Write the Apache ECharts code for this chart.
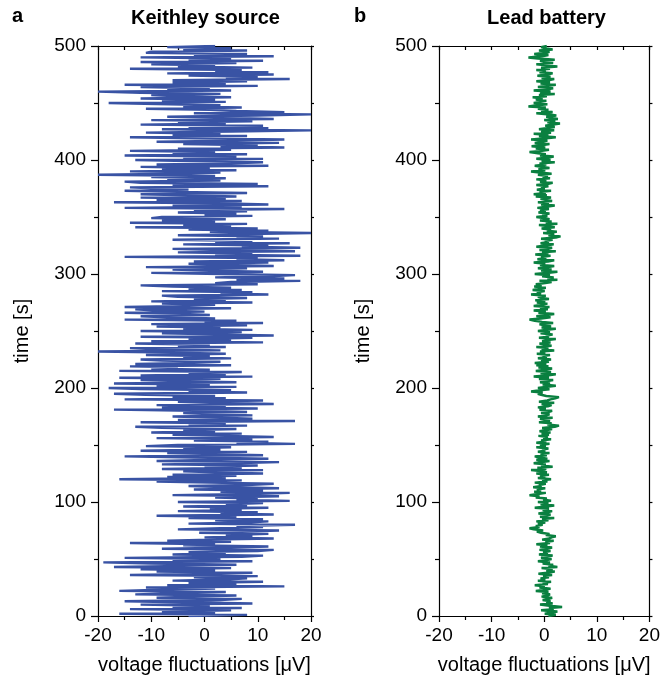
<!DOCTYPE html>
<html>
<head>
<meta charset="utf-8">
<script src="https://cdn.jsdelivr.net/npm/echarts@6/dist/echarts.min.js"></script>
<style>
html,body{margin:0;padding:0;background:#fff;}
#chart{width:663px;height:685px;}
</style>
</head>
<body>
<div id="chart"></div>
<script>
// Panel titles and labels
const panelLetters = ['a', 'b'];
const panelTitles = ['Keithley source', 'Lead battery'];
const xAxisName = 'voltage fluctuations [\u03bcV]';
const yAxisName = 'time [s]';
const xTicks = [-20, -10, 0, 10, 20];
const yTicks = [0, 100, 200, 300, 400, 500];

// Sampling step of each record (s)
const keithleyStep = 1;
const leadStep = 1;

// Keithley source voltage fluctuations (µV), one sample per second from t = 0 s
const keithleyVoltage = [
  -3, 8, -16, 2, -8, 5, -14, 7, -6, 1,
  -12, 9, -4, -15, 3, 7, -9, -2, 6, -13,
  -5, 4, -16, -8, 2, -11, 15, -7, 6, -3,
  11, -6, 4, 8, -2, 10, -14, 3, 9, -9,
  2, -12, 5, -17, -4, 6, -10, -19, 9, -6,
  3, -15, 7, 11, -6, 4, -3, 10, 13, -8,
  5, 12, -4, 2, -14, 5, -7, 1, 13, 0,
  9, 4, 12, -1, 7, 14, -5, 3, 11, 6,
  17, -3, 8, 12, 2, 11, -3, 6, -9, 13,
  3, 10, -5, 7, 1, 12, -4, 8, 4, 11,
  -5, 16, 6, 10, 2, 14, -6, 9, 16, 3,
  11, -2, 14, 5, -3, 9, 13, 1, -9, 7,
  -16, 4, -7, 6, -6, 11, 2, -4, 11, -8,
  7, 0, 10, -8, 5, 14, -9, 3, 12, -2,
  -15, 11, 2, -7, 8, -12, 3, -4, 5, -11,
  -5, 17, 6, 12, -2, 9, -9, 13, 4, -6,
  7, -10, 2, -4, 6, -8, -13, 8, -3, 4,
  -12, 17, -5, 9, 3, -6, 9, 2, -4, 8,
  -2, -17, 10, -8, 4, -9, 13, 1, -5, 11,
  -15, 4, -6, 2, -11, -17, 8, -3, 5, -12,
  -18, 6, -9, 1, -17, 6, -5, -12, 3, -16,
  9, -12, 4, -3, 7, -16, 1, -10, -5, -14,
  5, -13, -2, 3, -8, -12, 5, -4, 1, -11,
  4, -6, -20, 3, -9, -14, 4, -5, 1, -13,
  11, -10, 5, -3, 9, -12, 13, 2, -8, 7,
  -12, 9, -4, 3, -9, 8, -10, 11, 0, 6,
  -15, 2, -7, -12, 1, -4, -15, 0, -9, -13,
  5, -15, -3, 2, -8, 9, -10, 4, -2, 8,
  -5, -8, 12, 3, 9, -8, 7, -3, 5, -6,
  -12, 10, 2, 5, 18, 6, 15, 2, 12, 17,
  3, -10, 11, 1, -6, 8, -11, 13, 4, -3,
  12, -2, 15, 6, 10, -15, 18, 2, 9, -5,
  17, 3, -6, 18, 7, 12, -4, 16, 2, 9,
  -6, 14, 6, 11, -5, 8, 20, 1, 12, -3,
  10, -13, 5, -4, 8, -14, 2, -8, 4, -10,
  -8, 9, 0, 6, -5, 8, -2, 15, -15, 7,
  -6, 12, 2, -17, 7, -9, 4, -12, 6, -3,
  -12, 8, -5, -15, -3, -9, -14, 12, -6, 10,
  -12, -15, 3, -7, 4, -10, 2, -20, -4, 3,
  -14, 6, -8, 1, -12, 12, -9, 5, 11, -3,
  -13, 11, -4, 6, -15, 8, -6, 2, -14, 5,
  -5, 15, 3, 10, -4, 14, -9, 6, 15, -2,
  -14, 8, -6, 3, -11, 5, 20, -8, 12, -3,
  11, -12, 4, -5, 9, -10, 13, 2, -7, 10,
  20, -2, 15, 6, 1, -11, 7, -4, 3, -9,
  -18, 4, -8, 2, -12, 5, -6, -10, 3, -12,
  -20, 5, -7, 1, -12, 10, -15, 4, -6, 8,
  -6, 16, 4, 10, -3, 13, -7, 12, 2, 7,
  -14, 9, -5, 2, -10, 6, -12, 11, -3, 5,
  -12, 13, -2, 8, -11, -10, 8, -4, 5, -7,
  2
];

// Lead battery voltage fluctuations (µV), one sample per second from t = 0 s
const leadVoltage = [
  0.8, 2.2, 0.1, 1.5, 2.5, -0.6, 1.8, 0.9, 3.4, 1.0,
  -0.8, 1.6, 0.4, 1.2, -0.3, 0.9, 1.5, -0.5, 0.6, 1.1,
  -0.4, 0.8, -1.6, 0.3, 1.2, -0.9, 0.1, -1.8, 0.7, -0.3,
  1.3, -1.2, 0.2, -0.7, 0.9, -0.2, 1.5, -1.1, 0.6, 2.0,
  0.4, 1.6, -0.5, 2.5, 0.8, 1.7, -0.3, 1.1, -1.2, 0.5,
  1.4, -0.6, 0.3, 1.6, -1.0, 0.7, -0.2, 1.2, -0.9, 0.4,
  1.5, -0.8, 0.6, -1.5, 1.1, 0.2, 1.8, -0.4, 0.9, 1.4,
  2.2, 0.3, 1.0, -0.6, -1.4, -0.2, -2.0, -2.8, -0.9, -1.6,
  -0.3, -1.2, 0.2, -1.5, 0.8, -0.4, 1.9, -0.8, 0.5, 1.2,
  -1.1, 0.6, 1.5, -0.3, 0.9, -1.8, 0.4, 1.9, -0.7, 0.8,
  -1.2, 1.3, -0.2, 0.5, -1.6, -0.9, -2.8, -1.2, 0.3, -1.9,
  -0.6, -1.4, 0.2, -2.1, -0.5, -1.0, 0.3, -1.8, 0.6, -0.4,
  1.3, -1.2, 0.2, -0.8, 0.9, -1.5, 0.5, -0.3, -2.5, 0.4,
  -1.3, 1.6, -0.6, 0.3, -2.0, -0.4, 1.0, -1.5, 0.6, -0.9,
  -1.8, 0.5, -0.7, 1.0, -1.2, 0.2, -0.4, 0.8, -1.5, 0.3,
  -0.8, 1.0, -1.5, 0.4, -0.6, 1.3, -0.2, 0.7, -1.1, 0.9,
  -0.5, 1.2, -0.9, 0.3, 1.5, -0.4, 2.0, 2.8, 0.6, 1.4,
  -1.0, 1.1, 0.2, -0.8, 1.6, -1.2, 0.4, 1.0, -0.6, 0.8,
  1.5, -0.9, 0.3, -1.2, 0.7, 1.4, -0.5, 1.9, -1.0, 0.6,
  1.2, 2.1, 2.8, 0.4, -0.6, -1.2, -0.3, -2.5, -0.8, 1.0,
  -1.2, 0.6, 2.2, -0.3, 1.1, -0.8, 0.4, 1.7, -1.0, 0.9,
  -2.0, 0.5, 2.2, -0.7, 1.3, -1.6, 0.2, 1.5, -1.1, 0.8,
  -1.5, 0.4, -1.8, 0.9, -0.6, 1.3, -1.2, 0.5, -0.3, 1.1,
  -1.4, 0.2, -0.8, 1.9, -0.5, 0.8, -1.5, 1.4, 0.1, -0.9,
  1.2, -0.4, 0.7, 2.2, -1.0, 0.9, 0.3, 1.6, -0.7, 1.1,
  -1.2, 0.6, 2.2, -0.5, 1.3, 0.1, -0.9, 1.7, -0.4, -1.8,
  -2.8, -0.6, 1.2, -1.5, 0.4, 1.9, -1.1, 0.3, -2.0, 0.7,
  -0.8, 1.0, -2.0, -0.3, 0.6, -1.4, 0.2, -1.7, 0.9, -0.5,
  -1.2, 0.3, -2.5, -0.6, -1.4, 0.1, -2.2, -0.8, 0.3, -1.9,
  -0.5, -1.6, 0.2, 1.4, -0.9, 2.5, 0.6, 1.8, -0.4, 1.1,
  -1.8, 0.9, 2.5, -0.6, 1.4, -1.2, 0.5, 1.9, -0.8, 0.2,
  -2.0, 0.7, 1.9, -1.3, 0.4, -0.6, 1.2, -1.7, 0.8, -0.4,
  2.2, -0.9, 0.6, 1.5, -1.5, 0.3, 1.8, -0.7, 0.9, 0.1,
  1.6, -0.6, 2.2, 3.1, 0.8, 1.9, -0.2, 2.4, 0.5, 1.3,
  -0.5, 2.0, 0.6, -1.0, 2.5, 0.3, 1.4, -0.8, 1.0, 0.2,
  -1.5, 0.6, -0.4, 1.0, -1.1, 0.3, -0.8, 0.9, -1.3, 0.4,
  2.0, -0.6, 0.9, -1.2, 1.5, 0.2, -0.7, 1.3, -1.6, 0.5,
  -2.0, 0.3, -0.9, 1.3, -1.4, 0.1, -0.6, 0.8, -1.5, 0.6,
  1.6, -0.8, 0.4, -1.5, 1.1, -0.3, 0.7, -1.2, 1.4, -0.9,
  -2.5, 0.2, -1.1, 1.0, -0.6, -1.8, 0.4, -0.9, 2.0, -0.5,
  1.2, -1.5, 0.6, 1.8, -0.8, 0.3, -1.2, -2.8, -0.4, 0.9,
  -1.6, 0.2, -2.4, -0.5, 1.0, -1.8, -0.3, 0.6, -2.5, 0.4,
  2.2, -1.0, 0.8, -2.0, 1.3, -0.6, 1.9, -1.0, 0.7, 2.0,
  0.2, 1.4, 3.0, 0.6, 2.1, 0.0, 2.6, 1.2, 0.4, 2.3,
  1.0, -1.5, 1.6, -0.6, 0.8, -1.2, 0.3, -3.0, -1.4, 0.6,
  -2.0, -0.7, 0.4, -1.6, -0.3, -2.2, 0.5, -1.0, 2.0, -0.8,
  1.2, -2.0, 0.6, 1.7, -1.2, 0.4, 2.2, -0.7, 1.1, -1.5,
  0.8, 1.9, -0.5, 1.2, -1.3, 0.5, 1.6, -0.9, 0.3, -1.5,
  1.1, -0.6, 2.5, 0.4, -1.5, 1.7, 0.1, -0.8, 2.0, -1.2,
  -3.0, -0.4, 0.8, -1.9, 0.3, 1.0, -1.0, 1.6, 0.2, -0.6,
  0.5
];

const keithleyColor = '#3953a4';
const leadColor = '#0a8040';
const FONT = '"Liberation Sans", Arial, Helvetica, sans-serif';

const keithleyData = keithleyVoltage.map((v, i) => [v, i * keithleyStep]);
const leadData = leadVoltage.map((v, i) => [v, i * leadStep]);

const grids = [
  {left: 98, top: 46, width: 213, height: 570},
  {left: 439, top: 46, width: 213, height: 570}
];
const lineStyle = {color: '#000', width: 1.2};

function bottomX(g) {
  return {
    gridIndex: g, type: 'value', min: xTicks[0], max: xTicks[xTicks.length - 1], interval: 10,
    position: 'bottom',
    axisLine: {show: true, onZero: false, lineStyle},
    axisTick: {show: true, inside: false, length: 6, lineStyle},
    minorTick: {show: true, splitNumber: 2, length: 4, lineStyle},
    axisLabel: {show: true, color: '#000', fontSize: 19, fontFamily: FONT, margin: 10},
    splitLine: {show: false},
    name: xAxisName, nameLocation: 'middle', nameGap: 39,
    nameTextStyle: {color: '#000', fontSize: 20, fontFamily: FONT}
  };
}
function topX(g) {
  return {
    gridIndex: g, type: 'value', min: -20, max: 20, interval: 5, position: 'top',
    axisLine: {show: true, onZero: false, lineStyle},
    axisTick: {show: true, inside: true, length: 4, lineStyle},
    axisLabel: {show: false}, splitLine: {show: false}
  };
}
function leftY(g) {
  return {
    gridIndex: g, type: 'value', min: yTicks[0], max: yTicks[yTicks.length - 1], interval: 100,
    position: 'left',
    axisLine: {show: true, onZero: false, lineStyle},
    axisTick: {show: true, inside: false, length: 7, lineStyle},
    minorTick: {show: true, splitNumber: 2, length: 4, lineStyle},
    axisLabel: {show: true, color: '#000', fontSize: 19, fontFamily: FONT, margin: 12},
    splitLine: {show: false},
    name: yAxisName, nameLocation: 'middle', nameGap: 66, nameRotate: 90,
    nameTextStyle: {color: '#000', fontSize: 20, fontFamily: FONT}
  };
}
function rightY(g) {
  return {
    gridIndex: g, type: 'value', min: 0, max: 500, interval: 50, position: 'right',
    axisLine: {show: true, onZero: false, lineStyle},
    axisTick: {show: true, inside: false, length: 3, lineStyle},
    axisLabel: {show: false}, splitLine: {show: false}
  };
}

const titles = [];
panelTitles.forEach((t, i) => {
  const g = grids[i];
  titles.push({
    text: t, left: g.left + g.width / 2 - 4, top: 3, textAlign: 'center',
    textStyle: {fontSize: 20, fontWeight: 'bold', color: '#000', fontFamily: FONT}
  });
});
titles.push({text: panelLetters[0], left: 7, top: 1,
  textStyle: {fontSize: 20, fontWeight: 'bold', color: '#000', fontFamily: FONT}});
titles.push({text: panelLetters[1], left: 349, top: 1,
  textStyle: {fontSize: 20, fontWeight: 'bold', color: '#000', fontFamily: FONT}});

const chart = echarts.init(document.getElementById('chart'), null, {renderer: 'canvas'});
chart.setOption({
  animation: false,
  backgroundColor: '#fff',
  title: titles,
  grid: grids,
  xAxis: [bottomX(0), topX(0), bottomX(1), topX(1)],
  yAxis: [leftY(0), rightY(0), leftY(1), rightY(1)],
  series: [
    {type: 'line', xAxisIndex: 0, yAxisIndex: 0, data: keithleyData, showSymbol: false,
     lineStyle: {color: keithleyColor, width: 2.4}, silent: true},
    {type: 'line', xAxisIndex: 2, yAxisIndex: 2, data: leadData, showSymbol: false,
     lineStyle: {color: leadColor, width: 2.5}, silent: true}
  ]
});
</script>
</body>
</html>
